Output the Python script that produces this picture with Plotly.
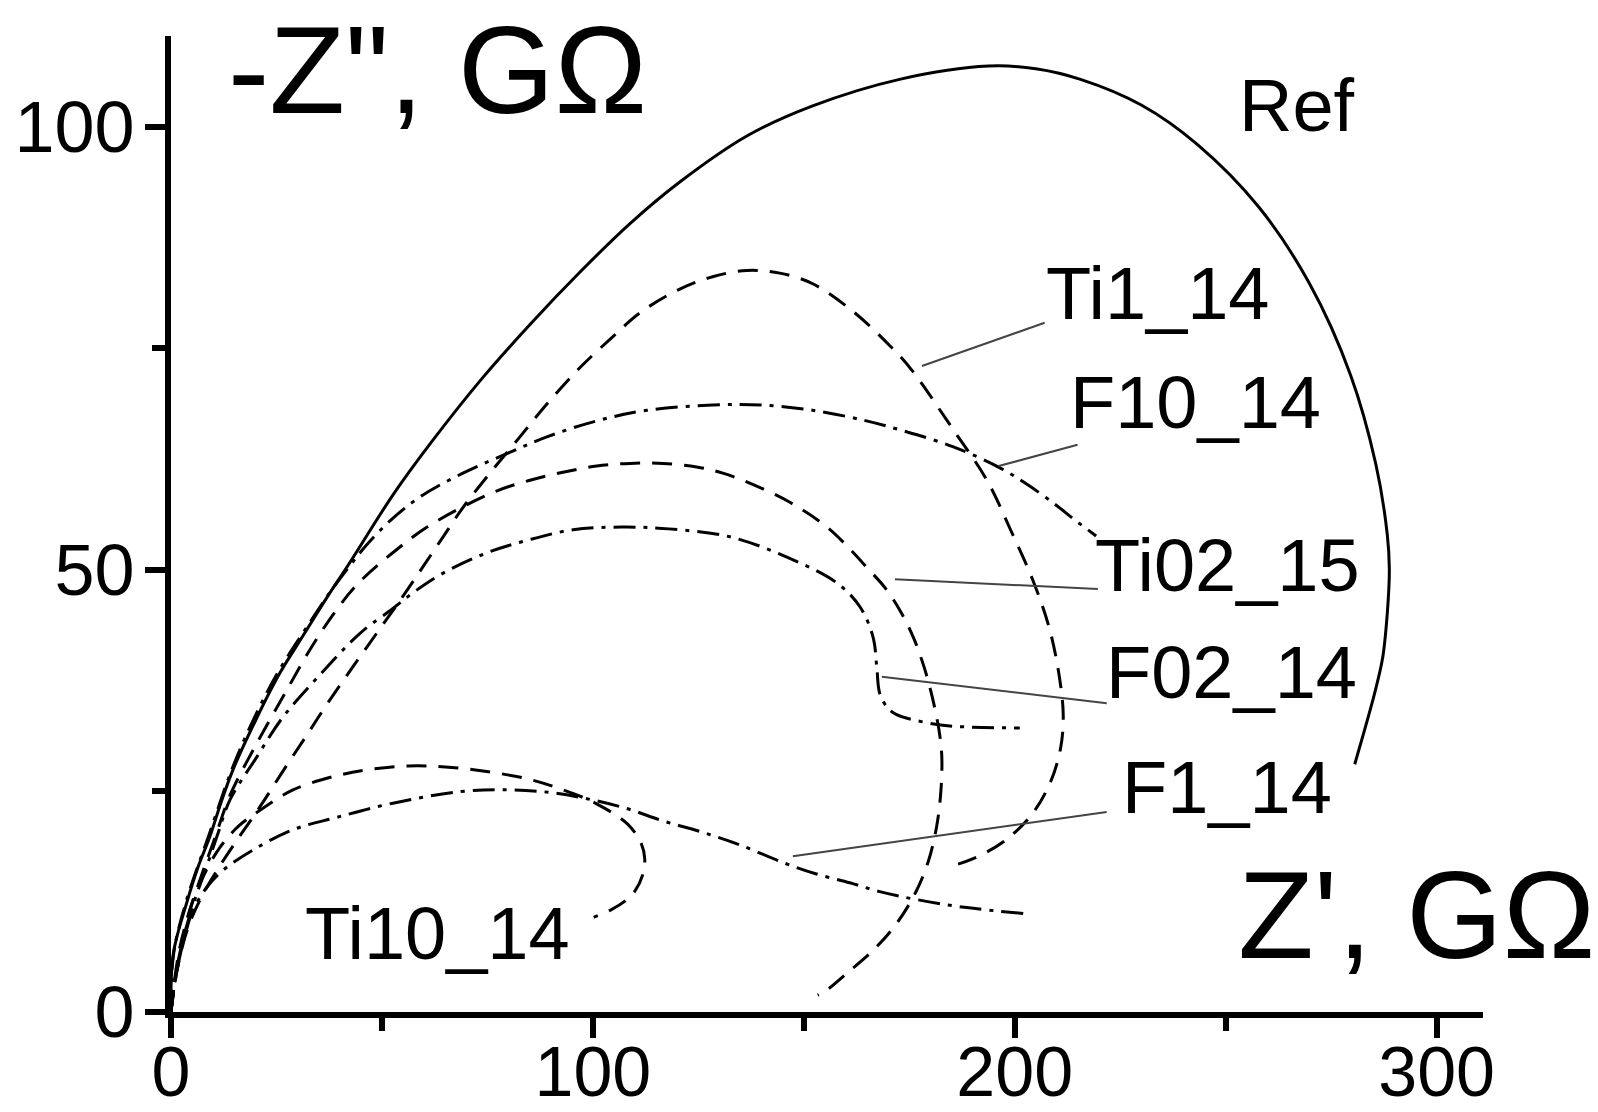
import plotly.graph_objects as go

# ---------------- data ----------------
ref_x = [0, 0.55, 3.7, 6.5, 9.2, 11.8, 14.8, 20.3, 25.8, 31.4, 36.9, 42.4, 52.7, 61.4, 73.2, 85.1, 96.9,
         108.8, 120.6, 136.5, 152.1, 172.7, 193.8, 205, 215.6, 230, 243.4, 257.8, 269.9, 279.6, 285.6,
         288.3, 288.8, 288.3, 287.2, 285.3, 283, 280.6]
ref_y = [0, 6.6, 12.3, 16.5, 19.8, 23.6, 27.5, 33.2, 38.3, 42.6, 46.8, 50.8, 58.5, 64.2, 71.3, 77.7, 83.6,
         89.1, 93.8, 99.0, 102.4, 105.4, 106.9, 106.6, 105.4, 102.5, 98.0, 91.0, 82.3, 72.0, 61.9,
         54.0, 50.0, 45.0, 40.0, 36.0, 32.0, 28.0]

ti1_x = [0, 0.8, 2, 4, 6.9, 10.9, 15.6, 21.1, 26.5, 32.2, 37, 43.1, 49.5, 55, 59.7, 64.5, 69.2, 75.6, 82.7,
         89.1, 96.9, 104.7, 111.1, 120.6, 128.4, 136.5, 144.3, 152.1, 161.6, 170.4, 175.5, 185.3, 193.4,
         199, 204.3, 208.3, 210.7, 211.5, 210.9, 208.5, 204, 197.5, 190, 185]
ti1_y = [0, 3, 6, 9.5, 12.7, 16, 19.4, 23.2, 27.2, 31.3, 34.8, 39, 43.3, 47, 50.3, 53.7, 57.0, 60.9, 65,
         68.7, 72.8, 76.3, 79, 81.7, 83.1, 83.8, 83.5, 82.3, 79.2, 75.3, 72.6, 65.9, 60.1,
         54.5, 48.8, 43.2, 37.5, 33.5, 29.9, 26.0, 22.3, 19.3, 17.3, 16.5]

f10_x = [0, 0.6, 3.6, 9, 14.5, 20, 25.5, 31.5, 37.5, 42.5, 46.4, 51.9, 59, 69.2, 79.6, 89.1, 100.9, 112.8,
         128.4, 140, 152.1, 164, 172.7, 185.3, 196.5, 203, 209.5, 214, 219.3]
f10_y = [0, 6.5, 12.5, 20, 27.5, 33.5, 38.5, 43, 47.3, 50.5, 52.8, 55.5, 58.2, 60.9, 63.1, 65, 66.8, 68,
         68.6, 68.6, 68, 66.9, 65.8, 63.9, 61.5, 59.6, 57.4, 55.7, 53.8]

ti02_x = [0, 1, 2.5, 4.5, 7.5, 10.5, 14, 20.5, 27, 33, 39, 44.5, 53.6, 60.7, 69.2, 77.3, 85.1, 92.9, 100.9,
          108.8, 116.6, 124.6, 130.8, 138, 146.7, 156, 165.6, 169.5, 173, 176, 178.5, 180.5, 182, 182.7,
          182.5, 181.5, 179.5, 176.5, 172, 166.5, 160, 155.5, 153.3]
ti02_y = [0, 3.5, 7.5, 11.5, 15.8, 19.8, 24.5, 30.5, 36, 41, 45.3, 48.5, 52.3, 54.8, 57.1, 58.9, 60.1, 61.0, 61.7,
          62, 62, 61.6, 60.9, 59.6, 57.6, 54.6, 49.9, 47.8, 45.2, 42.3, 39, 35.5, 32, 29,
          25, 21, 17, 13.5, 10, 7, 4.3, 2.5, 1.9]

f02_x = [0, 1.2, 3, 5.5, 8.5, 11, 14, 19.9, 26.5, 35.3, 44.8, 52.6, 58, 64.5, 74.9, 84.4, 95.3, 106.9,
         118, 132.5, 146, 157.8, 163.3, 166.4, 167.3, 168, 170, 172, 179.1, 185.3, 201.2]
f02_y = [0, 4.5, 8.5, 12.5, 16.5, 20, 24, 28.5, 33.3, 38.1, 42.8, 45.6, 47.6, 49.6, 51.9, 53.3, 54.5, 54.8,
         54.6, 53.7, 51.4, 48.5, 45.8, 42.4, 39, 36, 34.3, 33.6, 32.7, 32.3, 32.1]

ti10_x = [0, 0.8, 2.1, 3.8, 5.5, 7.6, 11.6, 16, 21.1, 28.9, 38.4, 47, 56.2, 65, 74.4, 84, 92.4, 101, 108.3,
          111.5, 112.3, 111.8, 110, 107.5, 104.5, 100.2]
ti10_y = [0, 3.5, 7.3, 10.5, 13, 15.3, 18.6, 21, 22.8, 25.1, 26.6, 27.4, 27.8, 27.7, 27.2, 26.4, 25.2, 23.5,
          21.2, 19, 17.3, 15.5, 13.7, 12.5, 11.6, 10.7]

f1_x = [0, 0.8, 2.2, 3.5, 5.2, 8.5, 12.3, 19.4, 28.9, 39.3, 52.6, 68.5, 80.3, 90, 98.6, 108, 116.6, 125.4,
        134.8, 145, 153, 160.9, 168, 176.8, 188.6, 202.8]
f1_y = [0, 3, 6.5, 9, 11.5, 14.1, 16, 18.3, 20.6, 22, 23.6, 24.9, 25.1, 24.8, 24.1, 23, 21.6, 20.4,
        18.9, 16.9, 15.6, 14.6, 13.6, 12.7, 11.8, 11.1]

series_names = ["Ref", "Ti1_14", "F10_14", "Ti02_15", "F02_14", "Ti10_14", "F1_14"]

# labels: text, left x, middle y (data units)
label_text = ["Ref", "Ti1_14", "F10_14", "Ti02_15", "F02_14", "F1_14", "Ti10_14"]
label_x = [252.6, 206.9, 212.6, 218.5, 221.2, 225.0, 31.3]
label_y = [102.4, 81.2, 68.9, 50.5, 38.4, 25.4, 8.9]

# leader lines (label end -> curve end)
lead_ti1_x = [207.1, 178.0]
lead_ti1_y = [77.9, 73.0]
lead_f10_x = [214.9, 196.2]
lead_f10_y = [64.1, 61.7]
lead_ti02_x = [219.7, 171.6]
lead_ti02_y = [47.8, 48.9]
lead_f02_x = [221.8, 168.5]
lead_f02_y = [34.9, 37.9]
lead_f1_x = [221.8, 147.4]
lead_f1_y = [22.6, 17.6]

x_ticks = [0, 100, 200, 300]
y_ticks = [0, 50, 100]
x_title = "Z', GΩ"
y_title = "-Z\", GΩ"

# ---------------- figure ----------------
FONT = "Liberation Sans, Arial, sans-serif"
DASH = "20px,12px"
DASHDOT = "22px,8px,4px,8px"

fig = go.Figure()

curves = [
    (ref_x, ref_y, "solid", series_names[0]),
    (ti1_x, ti1_y, DASH, series_names[1]),
    (f10_x, f10_y, DASHDOT, series_names[2]),
    (ti02_x, ti02_y, DASH, series_names[3]),
    (f02_x, f02_y, DASHDOT, series_names[4]),
    (ti10_x, ti10_y, DASH, series_names[5]),
    (f1_x, f1_y, DASHDOT, series_names[6]),
]
for xs, ys, dash, name in curves:
    fig.add_trace(go.Scatter(x=xs, y=ys, mode="lines", name=name,
                             line=dict(color="black", width=3, dash=dash, shape="spline", smoothing=1.0),
                             showlegend=False, hoverinfo="skip", cliponaxis=False))

for lx, ly in [(lead_ti1_x, lead_ti1_y), (lead_f10_x, lead_f10_y), (lead_ti02_x, lead_ti02_y),
               (lead_f02_x, lead_f02_y), (lead_f1_x, lead_f1_y)]:
    fig.add_trace(go.Scatter(x=lx, y=ly, mode="lines", line=dict(color="#444444", width=2),
                             showlegend=False, hoverinfo="skip"))

for t, x, y in zip(label_text, label_x, label_y):
    fig.add_annotation(x=x, y=y, xref="x", yref="y", text=t, showarrow=False,
                       xanchor="left", yanchor="middle",
                       font=dict(family=FONT, size=74, color="black"))

# axis titles
fig.add_annotation(x=0.042, y=0.9655, xref="paper", yref="paper", text=y_title, showarrow=False,
                   xanchor="left", yanchor="middle", font=dict(family=FONT, size=124, color="black"))
fig.add_annotation(x=0.8115, y=0.0994, xref="paper", yref="paper", text=x_title, showarrow=False,
                   xanchor="left", yanchor="middle", font=dict(family=FONT, size=124, color="black"))

axis_common = dict(showgrid=False, zeroline=False, showline=True, linecolor="black", linewidth=6,
                   ticks="outside", ticklen=20, tickwidth=5.5, tickcolor="black", automargin=False)

fig.update_xaxes(range=[0, 311], tickvals=x_ticks, ticktext=[str(v) for v in x_ticks],
                 ticklabelstandoff=-26, tickfont=dict(family=FONT, size=70, color="black"),
                 minor=dict(dtick=50, tick0=0, ticks="outside", ticklen=13, tickwidth=5.5, tickcolor="black"),
                 **axis_common)
fig.update_yaxes(range=[0, 110.3], tickvals=y_ticks, ticktext=[str(v) for v in y_ticks],
                 ticklabelstandoff=-4, tickfont=dict(family=FONT, size=72, color="black"),
                 minor=dict(dtick=25, tick0=0, ticks="outside", ticklen=13, tickwidth=5.5, tickcolor="black"),
                 **axis_common)

fig.update_layout(width=1598, height=1112, autosize=False,
                  margin=dict(l=171, r=114.6, t=36, b=100, pad=0),
                  plot_bgcolor="white", paper_bgcolor="white",
                  showlegend=False)

fig.write_html("out.html", include_plotlyjs=True, config={"displayModeBar": False})
